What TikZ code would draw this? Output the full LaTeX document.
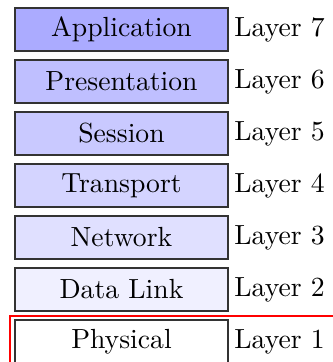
\documentclass[tikz,border=0pt]{standalone}
\usetikzlibrary{positioning}
\begin{document}
\begin{tikzpicture}[x=0.127mm,y=-0.127mm,
        layer/.style={draw=black!80,minimum width=27.05mm,minimum height=5.46mm,inner sep=0pt}]
        \useasboundingbox (0,0) rectangle (333,362);
        \foreach \name/\n/\shade [count=\i from 0] in {Application/7/33,Presentation/6/25,Session/5/21,Transport/4/17,Network/3/12,Data Link/2/6,Physical/1/0} {
            \node[layer,fill=blue!\shade] (layer\n) at (121.5,29.5+52*\i) {\name};
            \node[right=-1.4pt of layer\n] (num\n) {Layer \n};
        }
        \draw[red,line width=0.75pt] (10,316) rectangle (345,380);
    \end{tikzpicture}
\end{document}
